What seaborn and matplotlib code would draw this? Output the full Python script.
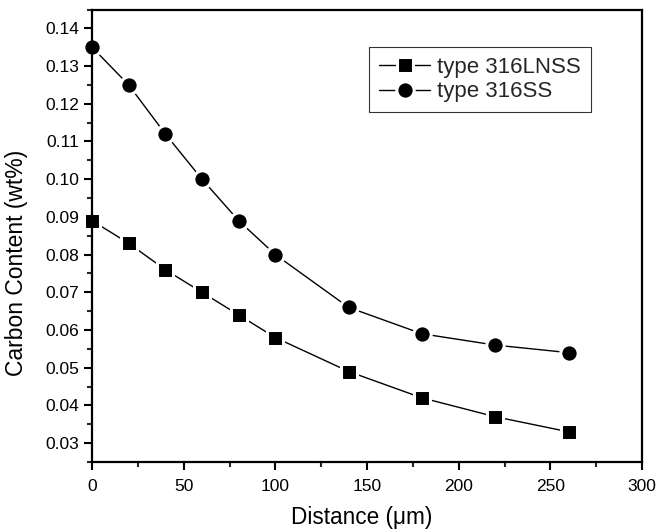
import matplotlib
matplotlib.use("Agg")
import matplotlib.pyplot as plt
import seaborn as sns
import pandas as pd
from matplotlib.ticker import MultipleLocator

distance = [0, 20, 40, 60, 80, 100, 140, 180, 220, 260]
c_316lnss = [0.089, 0.083, 0.076, 0.070, 0.064, 0.058, 0.049, 0.042, 0.037, 0.033]
c_316ss = [0.135, 0.125, 0.112, 0.100, 0.089, 0.080, 0.066, 0.059, 0.056, 0.054]
series_labels = ["type 316LNSS", "type 316SS"]
x_ticks = [0, 50, 100, 150, 200, 250, 300]
y_ticks = [0.03, 0.04, 0.05, 0.06, 0.07, 0.08, 0.09, 0.10, 0.11, 0.12, 0.13, 0.14]

sns.set_theme(style="white")
plt.rcParams['font.family'] = ['Liberation Sans', 'DejaVu Sans']

fig = plt.figure(figsize=(6.59, 5.32), dpi=100)
ax = fig.add_axes([92/659, 70/532, 550/659, 452.5/532])

df1 = pd.DataFrame({"x": distance, "y": c_316lnss})
df2 = pd.DataFrame({"x": distance, "y": c_316ss})

common = dict(color="black", linewidth=1.0, markersize=11.5,
              markeredgecolor="white", markeredgewidth=2.2, clip_on=False)
sns.lineplot(data=df1, x="x", y="y", marker="s", ax=ax, label=series_labels[0], **common)
sns.lineplot(data=df2, x="x", y="y", marker="o", ax=ax, label=series_labels[1],
             **{**common, "markersize": 12.5})

ax.set_xlim(0, 300)
ax.set_ylim(0.025, 0.145)
ax.set_xticks(x_ticks)
ax.set_yticks(y_ticks)
ax.set_yticklabels([f"{v:.2f}" for v in y_ticks])
ax.xaxis.set_minor_locator(MultipleLocator(25))
ax.yaxis.set_minor_locator(MultipleLocator(0.005))

ax.tick_params(axis="both", which="major", direction="out", length=6, width=1.5,
               labelsize=12.5, colors="black", bottom=True, left=True, top=False, right=False)
ax.tick_params(axis="x", which="major", pad=6)
ax.tick_params(axis="y", which="major", pad=3)
ax.tick_params(axis="both", which="minor", direction="out", length=3.5, width=1.5,
               bottom=True, left=True, top=False, right=False)

for s in ax.spines.values():
    s.set_visible(True)
    s.set_color("black")
    s.set_linewidth(1.6)
    s.set_zorder(5)

ax.set_xlabel("Distance (μm)", fontsize=16.3, color="black")
ax.set_ylabel("Carbon Content (wt%)", fontsize=16.5, color="black")
ax.xaxis.set_label_coords(270/550, -0.097)
ax.yaxis.set_label_coords(-0.116, 0.44)

leg = ax.legend(loc="upper left", bbox_to_anchor=(277/550, 415/452.5), borderaxespad=0,
                fontsize=16, frameon=True, fancybox=False, handlelength=2.3,
                handletextpad=0.3, labelspacing=0.15, borderpad=0.45)
leg.get_frame().set_edgecolor("black")
leg.get_frame().set_linewidth(0.8)

fig.savefig("out.png", dpi=100)
